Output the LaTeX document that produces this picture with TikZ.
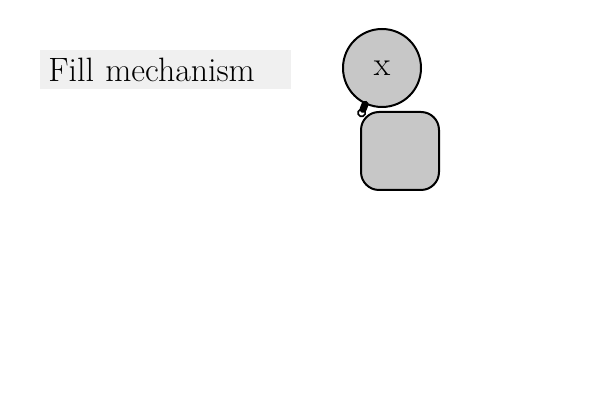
\documentclass[tikz,border=0pt]{standalone}
\usepackage{tikz}
\usetikzlibrary{arrows.meta}

\begin{document}
\begin{tikzpicture}[x=0.5pt,y=-0.5pt,font=\fontsize{16.9}{19}\selectfont,
  blob/.style={circle,draw=black,line width=1pt,fill=black!22,minimum size=39pt,inner sep=0pt},
  tank/.style={rounded corners=9pt,draw=black,line width=1pt,fill=black!22,minimum size=39pt,inner sep=0pt},
  title/.style={fill=black!6,anchor=west,text width=117.5pt,align=left,minimum height=19.5pt,inner xsep=4pt,inner ysep=2pt}]
\useasboundingbox (0,0) rectangle (600,400);
% --- label box ---
\node[title] (caption) at (40,69.5) {Fill mechanism};
% --- circle and rounded square ---
\node[blob] (x) at (382,68) {x};
\node[tank] (fillbox) at (400,151) {};
% --- the short link ---
\draw[line width=3.5pt,line cap=round,-{Circle[open,length=4.5pt,width=4.5pt,line width=0.8pt]}]
  (x.245) -- ([xshift=0pt,yshift=-3pt]fillbox.north west);
\end{tikzpicture}
\end{document}
